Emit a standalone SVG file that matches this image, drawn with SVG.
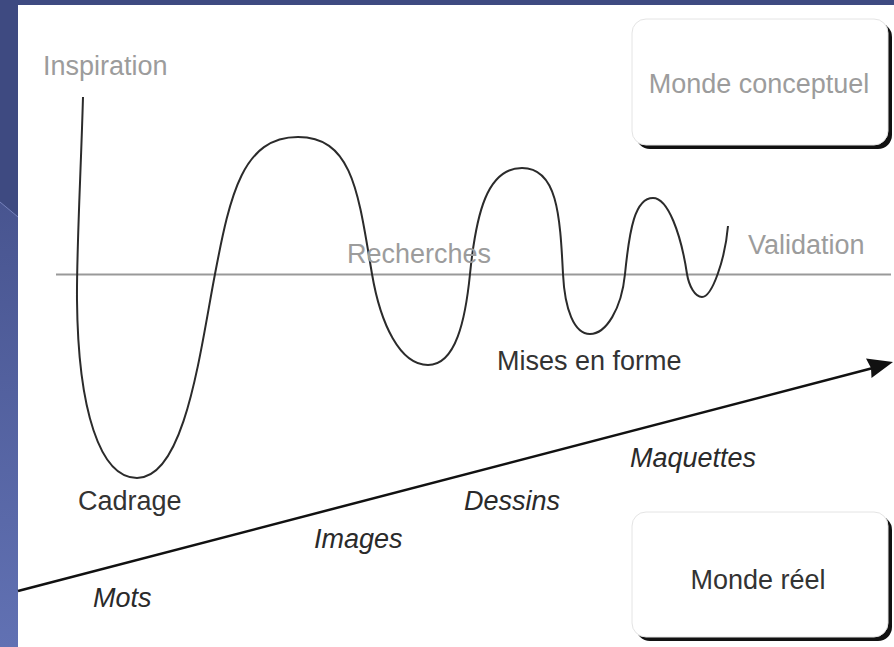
<svg xmlns="http://www.w3.org/2000/svg" width="894" height="647" viewBox="0 0 894 647">
  <defs>
    <linearGradient id="bg" x1="0" y1="0" x2="0" y2="1">
      <stop offset="0" stop-color="#3d4880"/>
      <stop offset="1" stop-color="#6171b3"/>
    </linearGradient>
    <style>
      .lbl { font-family: "Liberation Sans", Arial, sans-serif; font-size: 27px; }
      .grey { fill: #9c9c9c; }
      .dark { fill: #333333; }
      .it { font-style: italic; fill: #2a2a2a; }
      .wave { fill: none; stroke: #2b2b2b; stroke-width: 2; stroke-linejoin: round; }
      .axis { stroke: #999999; stroke-width: 2; }
      .box { fill: #ffffff; stroke: #e4e4e4; stroke-width: 1; }
      .shadow { fill: #111111; }
    </style>
  </defs>

  <!-- slide background -->
  <rect x="0" y="0" width="894" height="647" fill="url(#bg)"/>
  <polygon points="0,0 894,0 894,5 18,5 18,217 0,202" fill="#3e4a81"/>
  <line x1="0" y1="202" x2="18" y2="217" stroke="#7783bd" stroke-width="1"/>
  <rect x="18" y="5" width="876" height="642" fill="#ffffff"/>

  <!-- reference level -->
  <line class="axis" x1="56" y1="274.5" x2="891" y2="274.5"/>

  <g id="connectors">
    <!-- design oscillation curve: extreme -> crossing -> extreme -->
    <path class="wave" d="M83,97 C81,170 76.5,250 77,300
      C78,410 100,478 137,478
      C185,478 200,352 215,274
      C230.2,194 243,137 298,137
      C353,137 358.4,194 372,274
      C380.5,324 400,365 428,365
      C456,365 465.5,319 470,274
      C476,214 487,168 522,168
      C557,168 560,214 563,274
      C564.75,309 574,334 590,334
      C606,334 621.5,309 625,274
      C629.5,229 635,198 653,198
      C668,198 681,234 687,274
      C689,286 695,297 702,297
      C712,297 725,260 728,226"/>
    <!-- progression arrow -->
    <line x1="18" y1="591" x2="872" y2="368.3" stroke="#111111" stroke-width="2.5"/>
    <polygon points="893,362 866,358.6 871,368 871.5,378" fill="#111111"/>
  </g>

  <g id="inspiration"><text class="lbl grey" x="43" y="75">Inspiration</text></g>
  <g id="recherches"><text class="lbl grey" x="347" y="263">Recherches</text></g>
  <g id="validation"><text class="lbl grey" x="748" y="254">Validation</text></g>
  <g id="cadrage"><text class="lbl dark" x="78" y="510">Cadrage</text></g>
  <g id="mises-en-forme"><text class="lbl dark" x="497" y="370">Mises en forme</text></g>

  <g id="mots"><text class="lbl it" x="93" y="607">Mots</text></g>
  <g id="images"><text class="lbl it" x="314" y="548">Images</text></g>
  <g id="dessins"><text class="lbl it" x="464" y="510">Dessins</text></g>
  <g id="maquettes"><text class="lbl it" x="630" y="467">Maquettes</text></g>

  <g id="monde-conceptuel">
    <rect class="shadow" x="636" y="23" width="256" height="126" rx="14"/>
    <rect class="box" x="632" y="19" width="256" height="126" rx="14"/>
    <text class="lbl grey" x="759" y="93" text-anchor="middle">Monde conceptuel</text>
  </g>

  <g id="monde-reel">
    <rect class="shadow" x="636" y="516" width="256" height="125" rx="14"/>
    <rect class="box" x="632" y="512" width="256" height="125" rx="14"/>
    <text class="lbl dark" x="758" y="589" text-anchor="middle">Monde réel</text>
  </g>
</svg>
